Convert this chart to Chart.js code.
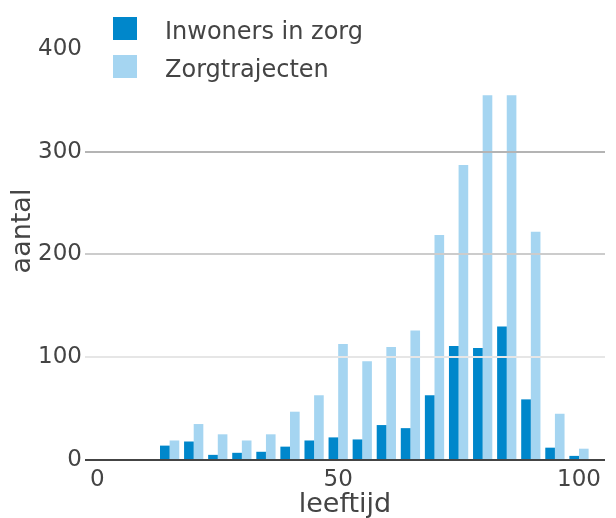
<!DOCTYPE html>
<html>
<head>
<meta charset="utf-8">
<script src="https://cdn.jsdelivr.net/npm/chart.js@4/dist/chart.umd.min.js"></script>
<style>
  html, body { margin: 0; padding: 0; background: #fff; }
  #wrap { position: relative; width: 616px; height: 518px; }
  canvas { position: absolute; left: 0; top: 0; }
  .leg { position: absolute; left: 113px; font-family: "DejaVu Sans", sans-serif; font-size: 24px; color: #444; }
  .leg .box { position: absolute; left: 0; top: 0; width: 24px; height: 23px; }
  .leg .txt { position: absolute; left: 52px; top: 0px; white-space: nowrap; line-height: 28px; }
</style>
</head>
<body>
<div id="wrap">
  <canvas id="c" width="616" height="518"></canvas>
  <div class="leg" style="top:17px"><div class="box" style="background:#0087CB"></div><div class="txt">Inwoners in zorg</div></div>
  <div class="leg" style="top:55px"><div class="box" style="background:#A5D5F1"></div><div class="txt">Zorgtrajecten</div></div>
</div>
<script>
const ages = [15, 20, 25, 30, 35, 40, 45, 50, 55, 60, 65, 70, 75, 80, 85, 90, 95, 100];
const inwoners = [14, 18, 5, 7, 8, 13, 19, 22, 20, 34, 31, 63, 111, 109, 130, 59, 12, 4];
const trajecten = [19, 35, 25, 19, 25, 47, 63, 113, 96, 110, 126, 219, 287, 355, 355, 222, 45, 11];
const seriesNames = ["Inwoners in zorg", "Zorgtrajecten"];
const xTitle = "leeftijd";
const yTitle = "aantal";

const gridColors = {0: "#444444", 100: "#e6e6e6", 200: "#cccccc", 300: "#b4b4b4", 400: "rgba(0,0,0,0)"};
const font = "'DejaVu Sans', sans-serif";

new Chart(document.getElementById("c"), {
  type: "bar",
  data: {
    datasets: [
      { label: seriesNames[0], data: ages.map((a, i) => ({x: a, y: inwoners[i]})), backgroundColor: "#0087CB" },
      { label: seriesNames[1], data: ages.map((a, i) => ({x: a, y: trajecten[i]})), backgroundColor: "#A5D5F1" }
    ]
  },
  options: {
    responsive: false,
    animation: false,
    layout: { padding: { top: 2, right: 11, left: 0, bottom: 0 } },
    datasets: { bar: { categoryPercentage: 0.8, barPercentage: 1.0 } },
    plugins: { legend: { display: false }, tooltip: { enabled: false } },
    scales: {
      x: {
        type: "linear",
        offset: false,
        min: -2.57,
        max: 105.4,
        grid: { display: false, offset: false },
        border: { display: false },
        ticks: { stepSize: 50, includeBounds: false, padding: -2, color: "#444", font: { family: font, size: 23 } },
        title: { display: true, text: xTitle, color: "#444", font: { family: font, size: 27, lineHeight: 1 }, padding: 0 },
        afterFit: s => { s.height = 58; s.paddingLeft = 0; s.paddingRight = 0; }
      },
      y: {
        min: 0,
        max: 445.7,
        border: { display: false },
        grid: {
          z: 1,
          drawTicks: false,
          color: c => gridColors[c.tick ? c.tick.value : 0] || "rgba(0,0,0,0)",
          lineWidth: 2
        },
        ticks: { stepSize: 100, includeBounds: false, padding: 3, color: "#444", font: { family: font, size: 23 } },
        title: { display: true, text: yTitle, color: "#444", font: { family: font, size: 27, lineHeight: 1 }, padding: { top: 9, bottom: 0 } },
        afterFit: s => { s.width = 85; s.paddingTop = 0; s.paddingBottom = 0; }
      }
    }
  }
});
</script>
</body>
</html>
